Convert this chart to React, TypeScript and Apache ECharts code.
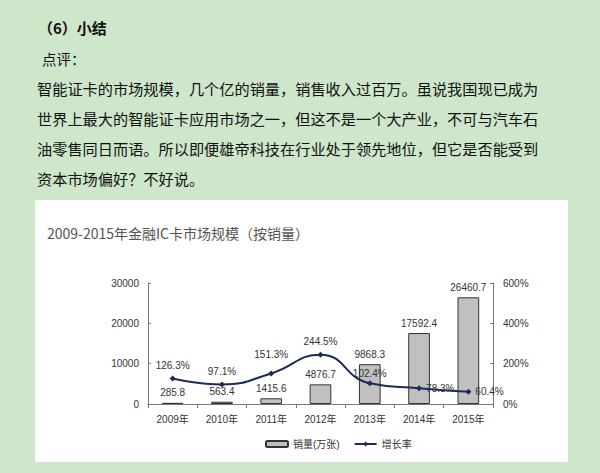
import React, { useEffect, useRef } from "react";
import * as echarts from "echarts";

const categories = ["2009年", "2010年", "2011年", "2012年", "2013年", "2014年", "2015年"];
const salesValues = [285.8, 563.4, 1415.6, 4876.7, 9868.3, 17592.4, 26460.7];
const growthValues = [126.3, 97.1, 151.3, 244.5, 102.4, 78.3, 60.4];
const growthLabelPos = ["top", "top", "top", "top", "top", "right", "right"];
const growthLabelDist = [5, 5, 11, 5, 2, 4, 4];

const headingText = "（6）小结";
const commentText = "点评：";
const paragraphLines = [
  "智能证卡的市场规模，几个亿的销量，销售收入过百万。虽说我国现已成为",
  "世界上最大的智能证卡应用市场之一，但这不是一个大产业，不可与汽车石",
  "油零售同日而语。所以即便雄帝科技在行业处于领先地位，但它是否能受到",
  "资本市场偏好？不好说。",
];
const chartTitle = "2009-2015年金融IC卡市场规模（按销量）";
const salesName = "销量(万张)";
const growthName = "增长率";

const CJK = "Noto Sans CJK SC";
const NUM = "'Liberation Sans', 'Noto Sans CJK SC', sans-serif";

export default function App() {
  const ref = useRef<HTMLDivElement>(null);
  useEffect(() => {
    document.body.style.margin = "0";
    if (!ref.current) return;
    const chart = echarts.init(ref.current, null, { renderer: "svg" });
    const lineY = [88, 118, 148, 178];
    chart.setOption({
      animation: false,
      backgroundColor: "#cee6c9",
      textStyle: { fontFamily: NUM },
      graphic: [
        {
          type: "rect",
          z: -10,
          shape: { x: 35, y: 200, width: 533, height: 262 },
          style: { fill: "#ffffff" },
        },
        {
          type: "text",
          x: 38,
          y: 27,
          style: {
            text: headingText,
            font: `bold 15px '${CJK}'`,
            fill: "#111",
            textVerticalAlign: "middle",
          },
        },
        {
          type: "text",
          x: 42,
          y: 58,
          style: {
            text: commentText,
            font: `14.5px '${CJK}'`,
            fill: "#111",
            textVerticalAlign: "middle",
          },
        },
        ...paragraphLines.map((t, i) => ({
          type: "text",
          x: 37,
          y: lineY[i],
          style: {
            text: t,
            font: `15.2px '${CJK}'`,
            fill: "#111",
            textVerticalAlign: "middle",
          },
        })),
        {
          type: "text",
          x: 47,
          y: 233,
          style: {
            text: chartTitle,
            font: `14px '${CJK}'`,
            fill: "#555",
            textVerticalAlign: "middle",
          },
        },
      ],
      grid: { left: 148, right: 107, top: 283, bottom: 69 },
      legend: {
        left: 260,
        top: 434,
        itemWidth: 22,
        itemHeight: 6,
        itemGap: 14,
        textStyle: { fontSize: 10, color: "#333", fontFamily: NUM },
        data: [salesName, growthName],
      },
      xAxis: {
        type: "category",
        data: categories,
        axisLine: { lineStyle: { color: "#777" } },
        axisTick: { show: true, length: 4, lineStyle: { color: "#777" } },
        axisLabel: { fontSize: 10, color: "#333", margin: 10 },
      },
      yAxis: [
        {
          type: "value",
          min: 0,
          max: 30000,
          interval: 10000,
          axisLine: { show: true, lineStyle: { color: "#777" } },
          axisTick: { show: true, inside: true, length: 3, lineStyle: { color: "#777" } },
          axisLabel: {
            fontSize: 10,
            color: "#333",
            margin: 9,
            formatter: (v: number) => String(v),
          },
          splitLine: { show: false },
        },
        {
          type: "value",
          min: 0,
          max: 600,
          interval: 200,
          position: "right",
          axisLine: { show: true, lineStyle: { color: "#777" } },
          axisTick: { show: true, inside: true, length: 3, lineStyle: { color: "#777" } },
          axisLabel: { fontSize: 10, color: "#333", margin: 10, formatter: "{value}%" },
          splitLine: { show: false },
        },
      ],
      series: [
        {
          name: salesName,
          type: "bar",
          data: salesValues,
          barWidth: "44%",
          itemStyle: { color: "#c0c0c0", borderColor: "#333", borderWidth: 1 },
          label: { show: true, position: "top", fontSize: 10, color: "#333", distance: 5 },
        },
        {
          name: growthName,
          type: "line",
          yAxisIndex: 1,
          smooth: true,
          symbol: "diamond",
          symbolSize: 6,
          lineStyle: { color: "#1c2a5c", width: 2 },
          itemStyle: { color: "#1c2a5c" },
          data: growthValues.map((v, i) => ({
            value: v,
            label: { position: growthLabelPos[i], distance: growthLabelDist[i] },
          })),
          label: { show: true, fontSize: 10, color: "#333", formatter: "{c}%" },
          z: 5,
        },
      ],
    });
    return () => chart.dispose();
  }, []);
  return <div ref={ref} style={{ width: 600, height: 473 }} />;
}
